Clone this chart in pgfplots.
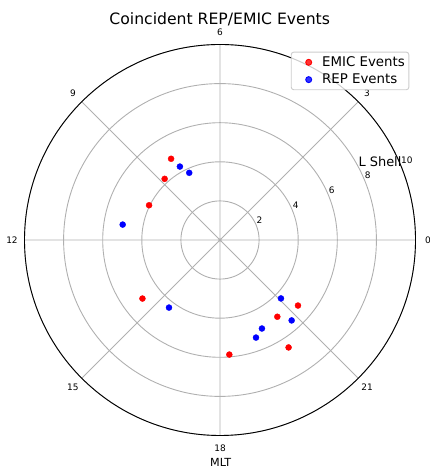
\documentclass[border=0pt]{standalone}
\usepackage{fontspec}
\setmainfont{DejaVu Sans}
\usepackage{pgfplots}
\usepackage{pgfplotstable}
\pgfplotsset{compat=1.18}
\usepgfplotslibrary{polar}

\definecolor{gridgray}{HTML}{B0B0B0}
\definecolor{legendgray}{HTML}{CCCCCC}

% Event locations: magnetic local time (hours) and L shell
\pgfplotstableread{
mlt    L
8.07   4.85
8.81   4.22
10.26  4.04
14.47  4.97
18.31  5.88
20.45  4.90
20.17  6.52
21.33  5.21
}\emicdata

\pgfplotstableread{
mlt    L
7.91   4.28
7.64   3.78
11.40  5.04
15.53  4.33
20.78  5.51
19.69  5.01
19.35  5.32
21.08  4.32
}\repdata

\begin{document}
\begin{tikzpicture}[x=1bp,y=1bp]
\useasboundingbox (0,0) rectangle (429,468);
\begin{polaraxis}[
  at={(220bp,228bp)}, anchor=center,
  scale only axis, width=391bp, height=391bp,
  xmin=0, xmax=360, ymin=0, ymax=10,
  xtick={0,45,...,315}, ytick={2,4,6,8,10},
  xticklabels={}, yticklabels={},
  major tick length=0pt,
  grid=major,
  major grid style={draw=gridgray, line width=0.9bp},
  axis line style={draw=black, line width=0.9bp},
  y axis line style={draw=none},
  clip=false,
  legend style={
    at={(0.984,0.9816)}, anchor=north east,
    font=\fontsize{13.4}{16}\selectfont,
    draw=legendgray, line width=0.9bp, rounded corners=2.5bp,
    fill=white, fill opacity=0.8, text opacity=1, draw opacity=1,
    inner xsep=2bp, inner ysep=2.5bp, row sep=2bp,
  },
  legend cell align=left,
  legend image code/.code={%
    \path (0bp,0bp) (26bp,0bp);
    \draw[#1] plot coordinates {(15bp,0bp)};
  },
]
\addplot[only marks, mark=*, mark size=3bp, color=red]
  table[x expr=\thisrow{mlt}*15, y=L] {\emicdata};
\addlegendentry{EMIC Events}
\addplot[only marks, mark=*, mark size=3bp, color=blue]
  table[x expr=\thisrow{mlt}*15, y=L] {\repdata};
\addlegendentry{REP Events}

% MLT hour labels around the rim
\begin{scope}[every node/.style={font=\fontsize{9}{10}\selectfont, inner sep=0pt, anchor=center}]
\node at (axis cs:0,10.64)   {0};
\node at (axis cs:45,10.64)  {3};
\node at (axis cs:90,10.64)  {6};
\node at (axis cs:135,10.64) {9};
\node at (axis cs:180,10.64) {12};
\node at (axis cs:225,10.64) {15};
\node at (axis cs:270,10.64) {18};
\node at (axis cs:315,10.64) {21};
\end{scope}

% L shell ring labels
\begin{scope}[every node/.style={font=\fontsize{9}{10}\selectfont, inner sep=0.3bp, anchor=west, yshift=4.6bp}]
\node at (axis cs:22.5,2)  {2};
\node at (axis cs:22.5,4)  {4};
\node at (axis cs:22.5,6)  {6};
\node at (axis cs:22.5,8)  {8};
\node at (axis cs:22.5,10) {10};
\end{scope}
\end{polaraxis}

\node[anchor=base, font=\fontsize{15.7}{18}\selectfont] at (219.7,443) {Coincident REP/EMIC Events};
\node[anchor=base, font=\fontsize{11.2}{13}\selectfont, inner sep=0pt] at (220.7,1.5) {MLT};
\node[anchor=base west, font=\fontsize{13}{15}\selectfont, inner sep=0pt] at (358.3,301.3) {L Shell};
\end{tikzpicture}
\end{document}
